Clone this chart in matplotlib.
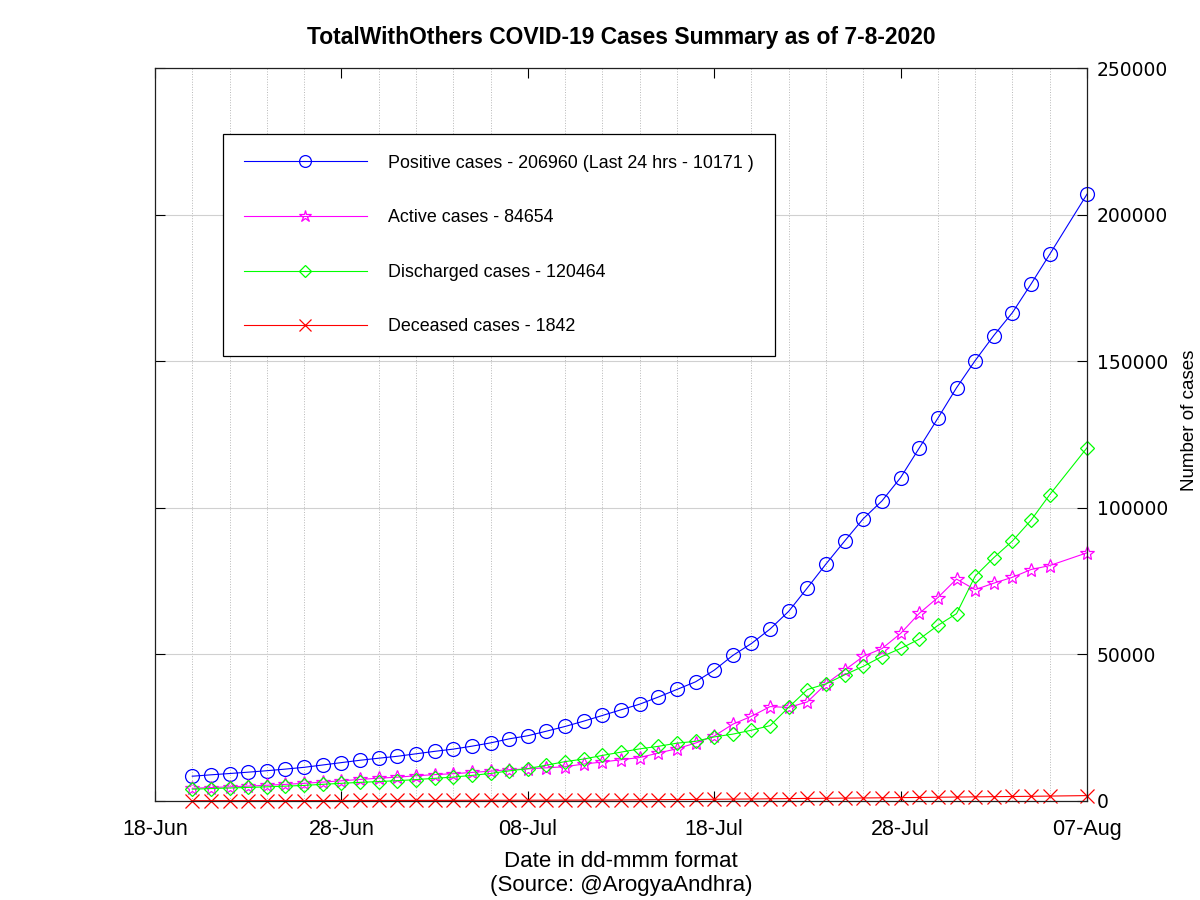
import matplotlib
matplotlib.use("Agg")
import matplotlib.pyplot as plt
import matplotlib.dates as mdates
import pandas as pd

# dates with data (06-Aug has no entry in the source)
dates = list(pd.date_range("2020-06-20", "2020-08-05", freq="D")) + [pd.Timestamp("2020-08-07")]

positive = [8452, 8929, 9372, 9834, 10331, 10884, 11489, 12285, 13098, 13891,
            14595, 15252, 16097, 16934, 17699, 18697, 19814, 21197, 22259, 23814,
            25422, 27235, 29168, 31103, 33019, 35451, 38044, 40646, 44609, 49650,
            53724, 58668, 64713, 72711, 80858, 88671, 96298, 102349, 110297, 120390,
            130557, 140933, 150209, 158764, 166586, 176333, 186461, 206960]

active = [4326, 4587, 4831, 5083, 5377, 5674, 6022, 6439, 6890, 7356,
          7779, 8130, 8600, 8989, 9316, 9733, 10188, 10673, 10948, 11319,
          11700, 12610, 13300, 14070, 14830, 16350, 17830, 19760, 22160, 26200,
          28900, 32200, 31900, 33810, 39960, 44640, 49330, 51980, 57130, 63990,
          69390, 75690, 72100, 74300, 76300, 78950, 80300, 84654]

discharged = [4025, 4236, 4430, 4632, 4826, 5074, 5321, 5689, 6039, 6355,
              6629, 6929, 7299, 7739, 8165, 8732, 9387, 10272, 11047, 12218,
              13430, 14316, 15540, 16668, 17781, 18649, 19722, 20352, 21863, 22808,
              24141, 25710, 31990, 38017, 39965, 43046, 45927, 49279, 52019, 55187,
              59886, 63894, 76702, 82990, 88682, 95779, 104480, 120464]

deceased = [101, 106, 111, 119, 128, 136, 146, 157, 169, 180,
            187, 193, 198, 206, 218, 232, 239, 252, 264, 277,
            292, 309, 328, 365, 408, 452, 492, 534, 586, 642,
            683, 758, 823, 884, 933, 985, 1041, 1090, 1148, 1213,
            1281, 1349, 1407, 1474, 1537, 1604, 1681, 1842]

labels = ["Positive cases - 206960 (Last 24 hrs - 10171 )",
          "Active cases - 84654",
          "Discharged cases - 120464",
          "Deceased cases - 1842"]

plt.rcParams["font.family"] = ["Liberation Sans", "DejaVu Sans"]

fig = plt.figure(figsize=(12, 9), dpi=100)
ax = fig.add_axes([155 / 1200, 1 - 801 / 900, (1087 - 155) / 1200, (801 - 68) / 900])

ax.plot(dates, positive, color="#0000ff", lw=0.8, marker="o", ms=10, mfc="none", mec="#0000ff", mew=0.9,
        label=labels[0], clip_on=False)
ax.plot(dates, active, color="#ff00ff", lw=0.8, marker="*", ms=10.5, mfc="none", mec="#ff00ff", mew=0.9,
        label=labels[1], clip_on=False)
ax.plot(dates, discharged, color="#00ff00", lw=0.8, marker="D", ms=7.5, mfc="none", mec="#00ff00", mew=0.9,
        label=labels[2], clip_on=False)
ax.plot(dates, deceased, color="#ff0000", lw=0.8, marker="x", ms=10, mec="#ff0000", mew=0.9,
        label=labels[3], clip_on=False)

ax.set_xlim(pd.Timestamp("2020-06-18"), pd.Timestamp("2020-08-07"))
ax.set_ylim(0, 250000)

ax.set_xticks(pd.date_range("2020-06-18", "2020-08-07", freq="10D"))
ax.set_xticks(pd.date_range("2020-06-18", "2020-08-07", freq="2D"), minor=True)
ax.xaxis.set_major_formatter(mdates.DateFormatter("%d-%b"))
ax.set_yticks(range(0, 250001, 50000))

ax.yaxis.tick_right()
ax.yaxis.set_label_position("right")
ax.tick_params(axis="both", which="major", direction="in", length=7, width=0.8,
               top=True, bottom=True, left=True, right=True, color="black")
ax.tick_params(axis="x", which="minor", length=0)
ax.tick_params(axis="x", labelsize=15.5, pad=13)
ax.tick_params(axis="y", labelsize=13.5, pad=7)
for lab in ax.get_yticklabels():
    lab.set_family("DejaVu Sans")

ax.grid(True, axis="y", which="major", color="#d0d0d0", lw=0.8, ls="-")
ax.grid(True, axis="x", which="minor", color="#b8b8b8", lw=0.7, ls=":")
ax.set_axisbelow(True)
for s in ax.spines.values():
    s.set_linewidth(0.9)
    s.set_color("#202020")

ax.set_title("TotalWithOthers COVID-19 Cases Summary as of 7-8-2020",
             fontsize=16.5, fontweight="bold", pad=17)
ax.set_xlabel("Date in dd-mmm format\n(Source: @ArogyaAndhra)", fontsize=16, labelpad=8)
ax.set_ylabel("Number of cases", fontsize=13.5, va="center")
ax.yaxis.set_label_coords((1189 - 155) / 932, 0.52)

leg = ax.legend(loc="upper left", bbox_to_anchor=(223 / 1200, 1 - 134 / 900),
                bbox_transform=fig.transFigure, borderaxespad=0, fontsize=12.9,
                handlelength=6.9, handletextpad=1.17, labelspacing=2.1,
                borderpad=1.15, fancybox=False, framealpha=1, edgecolor="black",
                markerscale=0.85)
leg.get_frame().set_linewidth(0.9)

fig.savefig("out.png", dpi=100)
